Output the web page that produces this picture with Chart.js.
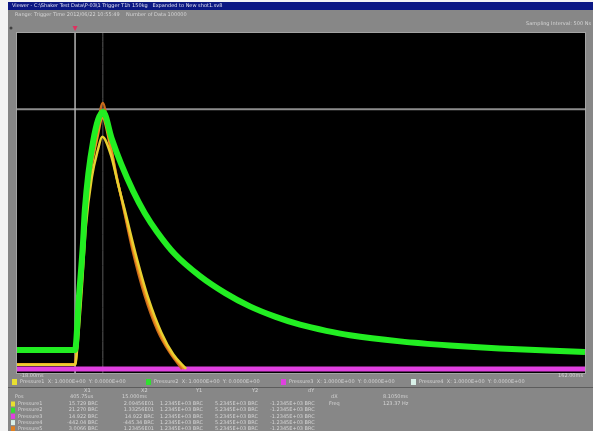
<!DOCTYPE html>
<html>
<head>
<meta charset="utf-8">
<script src="https://cdn.jsdelivr.net/npm/chart.js@4.4.0/dist/chart.umd.min.js"></script>
<style>
  html, body { margin: 0; padding: 0; background: #878787; overflow: hidden; }
  canvas { display: block; }
</style>
</head>
<body>
<canvas id="scope" width="593" height="431"></canvas>
<script>
// screen range: time in ms, amplitude in % of screen height
const timeMin = -18;
const timeMax = 162;
const ampMin = 0;
const ampMax = 100;

// green channel (slow decay)
const greenTime  = [-18, 0.4, 1.6, 2.9, 3.5, 6.1, 9.3, 12, 15, 18.8, 22.5, 26.4, 32, 40, 48, 55.8, 64, 71.7, 80, 87.5, 103.4, 119.2, 135, 150, 162];
const greenValue = [6.8, 6.8, 22, 38, 48, 68, 76.8, 69, 61.5, 53.5, 47, 41.5, 35, 28.5, 23.5, 19.6, 16.5, 14.2, 12.4, 11.1, 9.3, 8.1, 7.2, 6.6, 6.2];

// yellow / orange channels (fast pulse)
const yellowTime  = [-18, 0.4, 1.2, 2.5, 3.8, 5.7, 7.6, 9.0, 11.8, 13.9, 16.0, 19.6, 23.6, 27.7, 31.5, 35.6];
const yellowValue = [2.4, 2.4, 8.5, 24.5, 43.0, 57.5, 65.5, 69.5, 64.0, 56.0, 48.5, 35.0, 22.0, 12.0, 5.5, 1.2];
const orangeTime  = [-18, 0.4, 1.1, 2.4, 3.6, 5.5, 7.4, 9.1, 11.6, 13.6, 15.6, 19.1, 23.0, 27.1, 30.9, 35.0];
const orangeValue = [2.6, 2.6, 9.0, 26.0, 45.5, 60.0, 69.0, 75.0, 66.5, 57.5, 49.5, 35.5, 22.5, 12.2, 5.8, 1.2];
const rustTime    = [-18, 0.4, 1.0, 2.3, 3.5, 5.4, 7.3, 9.2, 11.4, 13.3, 15.2, 18.6, 22.4, 26.5, 30.3, 34.3];
const rustValue   = [2.4, 2.4, 9.7, 27.4, 47.9, 62.6, 71.5, 79.4, 68.5, 59.1, 50.9, 36.2, 23.0, 12.6, 6.2, 1.2];

// magenta channel (flat)
const magentaTime  = [-18, 162];
const magentaValue = [1.2, 1.2];

// cursors
const cursorTime = [0.4, 9.2];
const cursorLevel = 77.6;

const axisLabels = ['-18.00ms', '162.00ms'];

const legendItems = [
    { name: 'Pressure1  X: 1.0000E+00  Y: 0.0000E+00', color: '#e8e030', x: 12 },
    { name: 'Pressure2  X: 1.0000E+00  Y: 0.0000E+00', color: '#30e030', x: 146 },
    { name: 'Pressure3  X: 1.0000E+00  Y: 0.0000E+00', color: '#e040e0', x: 281 },
    { name: 'Pressure4  X: 1.0000E+00  Y: 0.0000E+00', color: '#d8f0e8', x: 411 }
];

const tableRows = [
    ['#e8e030', 'Pressure1', '15.729 BRC', '2.09456E01', '1.2345E+03 BRC', '5.2345E+03 BRC', '-1.2345E+03 BRC'],
    ['#30e030', 'Pressure2', '21.270 BRC', '1.33256E01', '1.2345E+03 BRC', '5.2345E+03 BRC', '-1.2345E+03 BRC'],
    ['#e040e0', 'Pressure3', '14.922 BRC', '14.922 BRC', '1.2345E+03 BRC', '5.2345E+03 BRC', '-1.2345E+03 BRC'],
    ['#d8f0e8', 'Pressure4', '-442.04 BRC', '-445.34 BRC', '1.2345E+03 BRC', '5.2345E+03 BRC', '-1.2345E+03 BRC'],
    ['#e08020', 'Pressure5', '3.0066 BRC', '1.23456E01', '1.2345E+03 BRC', '5.2345E+03 BRC', '-1.2345E+03 BRC']
];

const toPoints = (xs, ys) => xs.map((x, i) => ({ x: x, y: ys[i] }));

const traceDataset = (points, color, width) => ({
    data: points,
    borderColor: color,
    borderWidth: width,
    pointRadius: 0,
    cubicInterpolationMode: 'monotone',
    clip: 0
});

const textColor = '#d4d4d4';
const smallFont = '5px "DejaVu Sans"';

const scopeFrame = {
    id: 'scopeFrame',
    beforeDraw(chart) {
        const ctx = chart.ctx;
        const area = chart.chartArea;
        ctx.save();
        // panel
        ctx.fillStyle = '#878787';
        ctx.fillRect(0, 0, chart.width, chart.height);
        ctx.fillStyle = '#f4f4f4';
        ctx.fillRect(0, 0, 8, chart.height);
        ctx.fillRect(0, 0, chart.width, 2);
        // title bar
        ctx.fillStyle = '#0c1884';
        ctx.fillRect(8, 2, chart.width - 8, 8);
        ctx.font = smallFont;
        ctx.textBaseline = 'middle';
        ctx.fillStyle = '#e0e0f0';
        ctx.fillText('Viewer - C:\\Shaker Test Data\\P-03\\1 Trigger T1h 150kg   Expanded to New shot1.sv8', 12, 6);
        ctx.fillStyle = textColor;
        ctx.fillText('Range: Trigger Time 2012/06/22 10:55:49    Number of Data 100000', 15, 15);
        ctx.textAlign = 'right';
        ctx.fillText('Sampling Interval: 500 Ns', chart.width - 2, 24);
        // plot
        ctx.fillStyle = '#000';
        ctx.fillRect(area.left, area.top, area.right - area.left, area.bottom - area.top);
        ctx.strokeStyle = '#a4a4a4';
        ctx.lineWidth = 1;
        ctx.strokeRect(area.left - 0.5, area.top - 0.5, area.right - area.left + 1, area.bottom - area.top + 1);
        ctx.restore();
    },
    afterDraw(chart) {
        const ctx = chart.ctx;
        const area = chart.chartArea;
        const xScale = chart.scales.x;
        ctx.save();
        // trigger marker
        const tx = xScale.getPixelForValue(cursorTime[0]);
        ctx.fillStyle = '#e03060';
        ctx.beginPath();
        ctx.moveTo(tx - 2.5, area.top - 7);
        ctx.lineTo(tx + 2.5, area.top - 7);
        ctx.lineTo(tx, area.top - 2);
        ctx.closePath();
        ctx.fill();
        ctx.fillStyle = '#404040';
        ctx.beginPath();
        ctx.arc(11, 28, 1.5, 0, Math.PI * 2);
        ctx.fill();

        ctx.font = smallFont;
        ctx.textBaseline = 'middle';
        ctx.fillStyle = textColor;
        // axis ends
        ctx.textAlign = 'left';
        ctx.fillText(axisLabels[0], area.left + 3, area.bottom + 3);
        ctx.textAlign = 'right';
        ctx.fillText(axisLabels[1], area.right - 2, area.bottom + 3);

        // legend strip
        ctx.fillStyle = '#5c5c5c';
        ctx.fillRect(8, 387, chart.width - 8, 1);
        ctx.textAlign = 'left';
        legendItems.forEach(item => {
            ctx.fillStyle = item.color;
            ctx.fillRect(item.x, 379, 5, 6);
            ctx.fillStyle = textColor;
            ctx.fillText(item.name, item.x + 8, 382);
        });

        // measurement table
        ctx.fillText('X1', 84, 391);
        ctx.fillText('X2', 141, 391);
        ctx.fillText('Y1', 196, 391);
        ctx.fillText('Y2', 252, 391);
        ctx.fillText('dY', 308, 391);
        ctx.fillText('Pos', 15, 397);
        ctx.fillText('405.75us', 70, 397);
        ctx.fillText('15.000ms', 122, 397);
        ctx.fillText('dX', 331, 397);
        ctx.fillText('8.1050ms', 383, 397);
        ctx.fillText('Freq', 329, 404);
        ctx.fillText('123.37 Hz', 383, 404);
        tableRows.forEach((row, i) => {
            const y = 404 + i * 6.2;
            ctx.fillStyle = row[0];
            ctx.fillRect(11, y - 2.5, 4, 5);
            ctx.fillStyle = textColor;
            ctx.textAlign = 'left';
            ctx.fillText(row[1], 18, y);
            ctx.textAlign = 'right';
            ctx.fillText(row[2], 98, y);
            ctx.fillText(row[3], 154, y);
            ctx.textAlign = 'left';
            ctx.fillText(row[4], 160, y);
            ctx.fillText(row[5], 215, y);
            ctx.fillText(row[6], 270, y);
        });
        ctx.restore();
    }
};

new Chart(document.getElementById('scope'), {
    type: 'line',
    data: {
        datasets: [
            traceDataset(toPoints(greenTime, greenValue), '#22ee22', 6),
            traceDataset(toPoints(yellowTime, yellowValue), '#e8d030', 2.5),
            traceDataset(toPoints(orangeTime, orangeValue), '#f09020', 2.5),
            traceDataset(toPoints(rustTime, rustValue), '#c86a1c', 2.5),
            traceDataset(toPoints(magentaTime, magentaValue), '#e040e0', 5),
            traceDataset([{ x: cursorTime[0], y: ampMin }, { x: cursorTime[0], y: ampMax }], '#b4b4b4', 1.5),
            traceDataset([{ x: cursorTime[1], y: ampMin }, { x: cursorTime[1], y: ampMax }], '#5a5a5a', 1),
            traceDataset([{ x: timeMin, y: cursorLevel }, { x: timeMax, y: cursorLevel }], '#8c8c8c', 2)
        ]
    },
    options: {
        responsive: false,
        animation: false,
        events: [],
        layout: { padding: { left: 17, right: 8, top: 33, bottom: 58 } },
        scales: {
            x: { type: 'linear', min: timeMin, max: timeMax, display: false },
            y: { type: 'linear', min: ampMin, max: ampMax, display: false }
        },
        plugins: {
            legend: { display: false },
            tooltip: { enabled: false }
        }
    },
    plugins: [scopeFrame]
});
</script>
</body>
</html>
